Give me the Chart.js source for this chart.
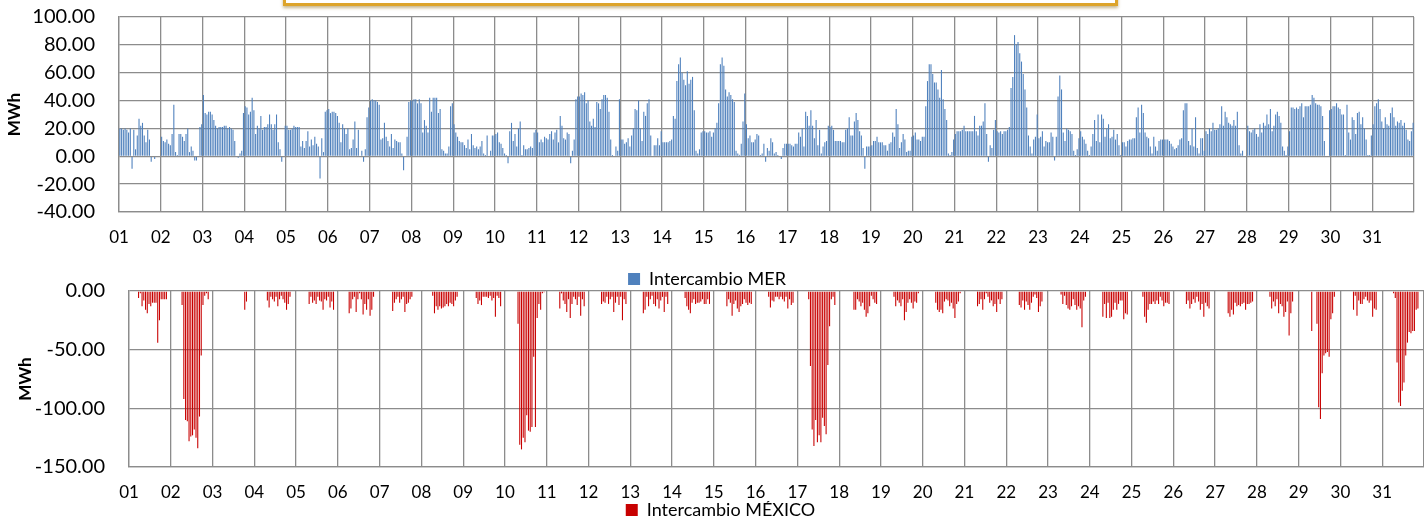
<!DOCTYPE html>
<html>
<head>
<meta charset="utf-8">
<script src="https://cdn.jsdelivr.net/npm/chart.js@4.4.1/dist/chart.umd.min.js"></script>
<style>
html,body{margin:0;padding:0;background:#fff;overflow:hidden;width:1424px;height:519px;}
#titleBox{position:absolute;left:283px;top:-40px;width:829px;height:40px;border:3px solid #DDA42A;box-shadow:0 2px 3px rgba(130,95,0,0.45);background:#fff;}
#c1{position:absolute;left:0;top:0;}
#c2{position:absolute;left:0;top:260px;}
</style>
</head>
<body>
<div id="titleBox"></div>
<canvas id="c1" width="1424" height="300"></canvas>
<canvas id="c2" width="1424" height="280"></canvas>
<script>
// Day labels (category ticks), one per day of the month
const dayLabels = ['01','02','03','04','05','06','07','08','09','10','11','12','13','14','15','16',
  '17','18','19','20','21','22','23','24','25','26','27','28','29','30','31'];

// Series names
const seriesMER = 'Intercambio MER';
const seriesMEX = 'Intercambio MÉXICO';

// Hourly values (MWh), 24 per day, day 01 .. 31
const valuesMER = [
  20,20,19,20,19,17,20,-9,19,5,15,27,22,24,15,10,19,12,-4,0,-2,0,0,0,
  14,11,10,12,9,8,16,37,3,1,16,16,14,11,16,20,3,7,4,-3,-3,0,21,23,
  44,31,30,32,32,30,26,22,20,21,21,21,22,22,20,21,20,19,11,0,-1,2,4,31,
  36,35,30,32,42,33,16,22,20,29,19,21,21,23,30,23,19,23,30,10,5,-4,0,22,
  22,19,19,20,22,21,21,21,7,11,6,11,18,7,12,8,14,9,7,-16,13,3,32,33,
  34,31,32,32,31,29,24,10,23,20,16,20,5,6,12,25,6,19,0,4,-4,5,28,35,
  40,41,40,40,39,37,12,13,24,14,11,7,16,6,12,11,10,10,2,-10,0,14,39,40,
  40,41,41,38,41,38,17,26,22,17,42,32,42,42,42,31,34,5,4,2,2,7,36,38,
  23,17,14,11,10,10,8,6,12,5,16,8,6,7,5,7,11,2,1,15,0,4,15,15,
  16,17,10,9,6,2,1,-5,18,24,11,16,7,20,25,1,8,5,5,6,7,6,17,19,
  17,10,12,10,14,13,12,16,18,12,17,19,10,29,22,13,12,17,16,-5,4,12,41,43,
  43,45,44,46,38,40,25,22,27,21,39,38,34,41,44,44,42,32,12,1,0,7,4,41,
  12,12,9,10,13,7,15,20,34,33,40,20,11,32,29,38,41,15,0,8,8,13,8,18,
  10,10,10,10,11,12,29,27,54,66,71,60,55,51,61,52,55,57,33,4,2,5,17,18,
  18,17,17,18,14,17,20,24,38,66,71,65,48,43,46,44,41,39,4,2,1,9,25,45,
  23,13,15,10,10,12,16,15,1,2,9,-4,6,4,13,10,2,3,1,0,-2,6,9,9,
  9,9,8,7,9,9,17,14,20,7,32,29,22,33,22,13,26,8,19,2,7,10,11,22,
  21,22,19,11,11,11,11,10,10,19,20,28,15,15,25,31,26,18,15,6,-9,7,7,7,
  8,11,11,14,10,10,10,8,8,4,9,10,17,14,34,23,6,10,16,12,3,4,4,14,
  15,17,12,12,11,14,14,36,54,66,66,59,53,53,48,42,62,41,34,26,2,1,3,12,
  16,18,18,18,19,22,18,18,18,18,18,29,18,15,22,22,25,38,16,-4,8,6,19,26,
  18,17,18,16,18,18,19,21,49,57,87,80,82,74,68,59,48,35,15,7,2,12,14,30,
  13,14,18,7,11,10,10,17,14,-3,14,43,58,48,17,11,20,19,18,16,4,1,5,13,
  18,14,12,9,4,1,7,16,26,11,30,10,30,27,14,20,23,13,14,19,12,16,8,1,
  10,10,7,11,12,12,13,13,28,35,17,37,31,17,14,13,7,2,14,7,4,11,12,12,
  12,12,12,11,9,7,5,6,8,12,13,33,38,38,11,8,20,7,28,6,2,13,13,4,
  18,16,20,18,24,19,19,20,23,36,22,32,28,24,23,22,26,22,32,8,2,4,0,0,
  22,18,17,19,20,16,14,23,17,24,22,30,23,34,18,22,30,32,29,24,7,4,1,7,
  18,35,35,34,35,34,36,38,28,36,36,36,37,44,42,38,37,37,36,29,11,0,0,33,
  34,36,36,38,35,34,30,30,1,37,17,12,28,26,16,31,32,23,28,20,12,1,1,15,
  23,36,38,41,34,25,20,28,23,22,31,35,28,22,25,24,26,22,24,19,12,11,18,24
];

const valuesMEX = [
  0,0,0,0,0,-6,-2,-13,-8,-16,-19,-11,-13,-10,-10,-10,-44,-25,-7,-7,-7,-7,0,0,
  0,0,0,0,0,0,-12,-92,-110,-111,-128,-124,-123,-118,-125,-134,-107,-55,-12,-4,-2,-7,0,0,
  0,0,0,0,0,0,0,0,0,0,0,0,0,0,0,0,0,0,-16,-9,0,0,0,0,
  0,0,0,0,0,0,0,-8,-14,-5,-7,-9,-5,-13,-7,-4,-7,-10,-16,-11,-5,0,0,0,
  0,0,0,0,0,0,0,-11,-5,-10,-8,-11,-5,-8,-9,-16,-7,-8,-5,-14,-9,-16,0,0,
  0,0,0,0,0,0,-19,-15,-7,-5,-18,-7,-2,-7,-20,-11,-16,-7,-21,-16,-5,0,0,0,
  0,0,0,0,0,0,0,-17,-10,-7,-5,-10,-7,-5,-18,-11,-10,-7,-5,0,0,0,0,0,
  0,0,0,0,0,0,-4,-19,-13,-16,-13,-15,-14,-13,-11,-13,-10,-11,-13,-8,-5,0,0,0,
  0,0,0,0,0,0,0,-6,-11,-8,-12,-5,-5,-5,-6,-4,-8,-6,-22,-4,-6,-13,0,0,
  0,0,0,0,0,0,0,-28,-131,-135,-125,-129,-106,-119,-120,-116,-56,-116,-23,-11,-16,-2,-1,0,
  0,0,0,0,0,0,0,-15,-2,-8,-11,-18,-7,-23,-11,-5,-7,-12,-5,-21,-7,-13,0,0,
  0,0,0,0,0,0,0,-11,-9,-10,-5,-11,-7,-5,-18,-10,-5,-12,-5,-25,-7,-11,0,0,
  0,0,0,0,0,0,0,-19,-16,-5,-13,-7,-4,-11,-13,-7,-15,-8,-5,-18,-5,-11,0,0,
  0,0,0,0,0,0,0,-6,-13,-16,-19,-10,-7,-11,-10,-10,-9,-7,-11,-11,-7,-11,0,0,
  0,0,0,0,0,0,0,-13,-7,-10,-21,-11,-8,-15,-18,-13,-11,-7,-10,-12,-10,-11,0,0,
  0,0,0,0,0,0,0,-5,-14,-8,-9,-5,-5,-7,-5,-7,-9,-5,-15,-7,-12,-10,0,0,
  0,0,0,0,0,0,-7,-64,-118,-132,-110,-129,-123,-129,-108,-115,-122,-63,-30,-7,-5,-12,0,0,
  0,0,0,0,0,0,0,0,-16,-16,-7,-9,-13,-10,-16,-22,-19,-13,-4,-7,-10,-11,0,0,
  0,0,0,0,0,0,0,-5,-13,-8,-10,-13,-7,-25,-18,-10,-7,-10,-15,-9,-10,-2,0,0,
  0,0,0,0,0,0,0,-10,-16,-18,-16,-19,-9,-7,-8,-13,-10,-15,-23,-11,-9,-2,0,0,
  0,0,0,0,0,0,0,-13,-11,-7,-16,-7,-2,-5,-10,-8,-13,-11,-18,-7,-11,-7,0,0,
  0,0,0,0,0,0,0,-12,-14,-8,-16,-9,-12,-16,-10,-5,-3,-6,-18,-13,-9,0,0,0,
  0,0,0,0,0,0,0,-3,-11,-4,-12,-15,-16,-13,-7,-12,-16,-13,-15,-31,-8,-5,0,0,
  0,0,0,0,0,0,0,-22,-11,-23,-10,-23,-22,-16,-10,-16,-11,-8,-8,-24,-19,-20,0,0,
  0,0,0,0,0,0,-5,-22,-27,-16,-11,-11,-9,-11,-8,-11,-5,-8,-13,-10,-10,-11,0,0,
  0,0,0,0,0,0,0,-11,-8,-15,-11,-7,-10,-5,-9,-16,-11,-22,-10,-13,-15,0,0,0,
  0,0,0,0,0,0,0,-19,-22,-16,-20,-10,-13,-12,-13,-11,-10,-16,-11,-11,-10,-9,0,0,
  0,0,0,0,0,0,0,-5,-15,-9,-13,-7,-19,-11,-13,-22,-18,-9,-38,-19,-9,0,0,0,
  0,0,0,0,0,0,0,-34,0,0,-28,-99,-109,-70,-55,-53,-52,-56,-24,-19,-5,0,0,0,
  0,0,0,0,0,0,0,-16,-4,-21,-8,-11,-11,-7,-5,-8,-10,-8,-22,-15,-16,0,0,0,
  0,0,0,0,0,0,-2,-6,-61,-95,-98,-85,-78,-55,-44,-35,-36,-34,-34,-16,-15,0,0,0
];

// Y-axis ranges and steps [min, max, step]
const yRangeMER = [-40, 100, 20];
const yRangeMEX = [-150, 0, 50];

const HOURS_PER_DAY = 24;
const FONT = 'Lato, "Liberation Sans", Arial, sans-serif';
const GRID = '#8c8c8c';
const CLEAR = 'rgba(0,0,0,0)';

function buildChart(canvasId, values, label, color, yRange, L) {
  const total = dayLabels.length * HOURS_PER_DAY;
  const points = values.map((v, i) => ({ x: i + 0.5, y: v }));
  return new Chart(document.getElementById(canvasId), {
    type: 'bar',
    data: {
      datasets: [{
        label: label,
        data: points,
        backgroundColor: color,
        borderWidth: 0,
        barPercentage: 0.62,
        categoryPercentage: 1.0
      }]
    },
    options: {
      responsive: false,
      animation: false,
      devicePixelRatio: 1,
      layout: { padding: L.pad },
      plugins: {
        tooltip: { enabled: false },
        legend: {
          display: true,
          position: 'bottom',
          labels: {
            boxWidth: 12, boxHeight: 12, padding: L.legendPad,
            color: '#000',
            font: { family: FONT, size: 18 }
          }
        }
      },
      scales: {
        x: {
          type: 'linear',
          min: 0, max: total,
          offset: false,
          grid: { offset: false, color: GRID, lineWidth: 1.3, drawTicks: true, tickLength: 17, tickColor: CLEAR },
          border: { color: GRID, width: 1.3 },
          ticks: {
            stepSize: HOURS_PER_DAY,
            maxTicksLimit: 100,
            autoSkip: false,
            maxRotation: 0, minRotation: 0,
            padding: 0,
            color: '#000',
            font: { family: FONT, size: 17, lineHeight: 1 },
            callback: (v) => {
              const d = Math.round(v / HOURS_PER_DAY);
              return (v % HOURS_PER_DAY === 0 && d < dayLabels.length) ? dayLabels[d] : '';
            }
          },
          afterFit: (s) => { s.height = L.xAxisH; }
        },
        y: {
          min: yRange[0], max: yRange[1],
          grid: { color: GRID, lineWidth: 1.3, drawTicks: true, tickLength: 19, tickColor: CLEAR },
          border: { color: GRID, width: 1.3 },
          ticks: {
            stepSize: yRange[2],
            autoSkip: false,
            padding: 5,
            color: '#000',
            font: { family: FONT, size: 20 },
            callback: (v) => Number(v).toFixed(2)
          },
          title: {
            display: true, text: 'MWh', color: '#000',
            font: { family: FONT, size: 17, weight: 'bold', lineHeight: 1 },
            padding: { top: L.titlePad, bottom: 0 }
          },
          afterFit: (s) => { s.width = L.yAxisW; }
        }
      }
    }
  });
}

buildChart('c1', valuesMER, seriesMER, '#4F81BD', yRangeMER,
  { pad: { top: 17, right: 10, bottom: 2, left: 0 }, xAxisH: 48, yAxisW: 119, titlePad: 6, legendPad: 10 });
buildChart('c2', valuesMEX, seriesMEX, '#C80000', yRangeMEX,
  { pad: { top: 31, right: 0, bottom: 11, left: 17 }, xAxisH: 34, yAxisW: 112, titlePad: 0, legendPad: 0 });
</script>
</body>
</html>
